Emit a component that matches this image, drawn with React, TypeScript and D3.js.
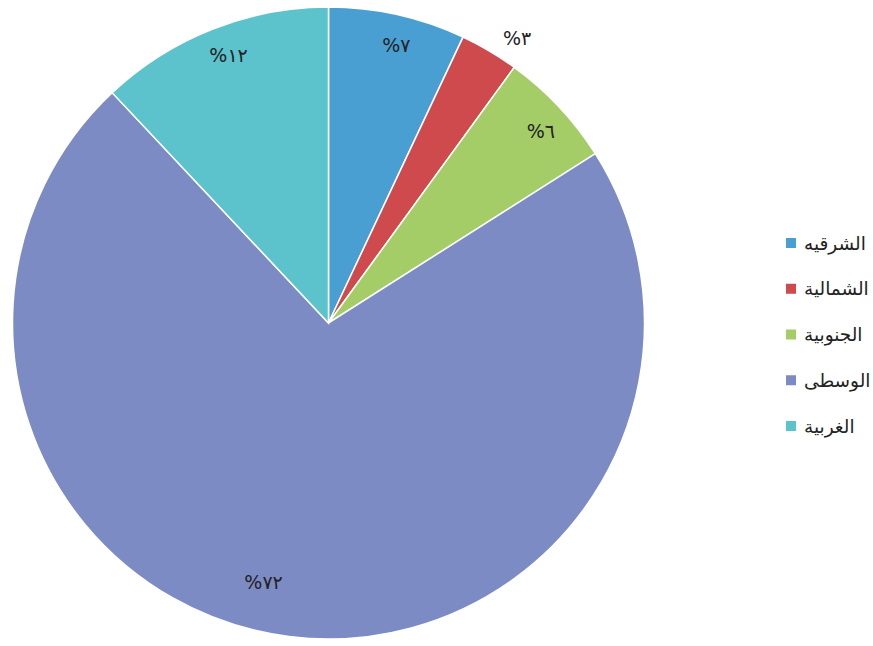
import React from "react";
import * as d3 from "d3";

const categories = ["الشرقيه", "الشمالية", "الجنوبية", "الوسطى", "الغربية"];
const values = [7, 3, 6, 72, 12];
const labels = ["%٧", "%٣", "%٦", "%٧٢", "%١٢"];
const colors = ["#4a9fd2", "#cf4a4c", "#a5cd67", "#7d8bc4", "#5cc2cc"];

const W = 873;
const H = 646;
const cx = 328.5;
const cy = 323;
const R = 316;

export default function App() {
  const pie = d3.pie<number>().sort(null).value((d) => d);
  const arcs = pie(values);
  const arcGen = d3.arc<d3.PieArcDatum<number>>().innerRadius(0).outerRadius(R);

  const labelPos = (a: d3.PieArcDatum<number>) => {
    const v = a.value;
    const r = v < 5 ? 342 : v > 50 ? 267 : 286;
    const shift = v < 5 ? 0.05 : v > 50 ? 0.12 : 0.02;
    const ang = (a.startAngle + a.endAngle) / 2 + shift;
    return [Math.sin(ang) * r, -Math.cos(ang) * r];
  };

  const legendY = d3.scalePoint<number>().domain(d3.range(categories.length)).range([243, 426]);

  return (
    <svg
      width={W}
      height={H}
      style={{ position: "absolute", left: 0, top: 0, background: "#fff" }}
      fontFamily="'DejaVu Sans', 'Liberation Sans', sans-serif"
    >
      <g transform={`translate(${cx},${cy})`}>
        {arcs.map((a, i) => (
          <path key={i} d={arcGen(a) || ""} fill={colors[i]} stroke="#fff" strokeWidth={1.5} />
        ))}
        {arcs.map((a, i) => {
          const [x, y] = labelPos(a);
          return (
            <text
              key={i}
              x={x}
              y={y}
              textAnchor="middle"
              dominantBaseline="central"
              fontSize={19}
              fill="#222"
              direction="ltr"
              unicodeBidi="bidi-override"
            >
              {labels[i]}
            </text>
          );
        })}
      </g>
      <g>
        {categories.map((c, i) => (
          <g key={i} transform={`translate(786,${legendY(i)})`}>
            <rect x={0} y={-5} width={10} height={10} fill={colors[i]} />
            <text x={18} y={0} dominantBaseline="central" fontSize={18.5} fill="#222">
              {c}
            </text>
          </g>
        ))}
      </g>
    </svg>
  );
}
